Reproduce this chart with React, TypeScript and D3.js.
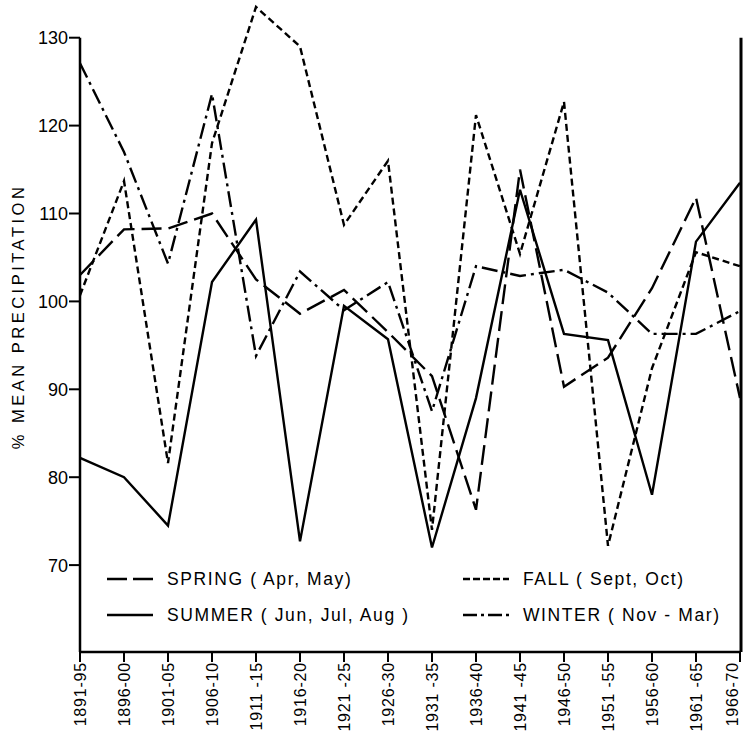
import React from 'react';
import * as d3 from 'd3';

const periods = ['1891-95', '1896-00', '1901-05', '1906-10', '1911 -15', '1916-20', '1921 -25', '1926-30',
  '1931 -35', '1936-40', '1941 -45', '1946-50', '1951 -55', '1956-60', '1961 -65', '1966-70'];

const spring = [103, 108.2, 108.3, 110, 102.5, 98.6, 101.3, 96.5, 91.5, 76.3, 115, 90.3, 93.6, 101.5, 111.8, 89];
const summer = [82.2, 80, 74.5, 102.2, 109.3, 72.7, 99.5, 95.7, 72, 89, 112.7, 96.3, 95.6, 78, 106.8, 113.5];
const fall = [100.7, 113.7, 81.6, 118, 133.5, 129, 108.7, 116, 74, 121.2, 105.4, 122.7, 72.2, 92.4, 105.6, 104];
const winter = [127.1, 117, 104.3, 123.6, 93.8, 103.4, 99, 102.2, 87.5, 104, 102.9, 103.6, 101, 96.3, 96.3, 98.9];

const yTicks = [70, 80, 90, 100, 110, 120, 130];

const series = [
  { name: 'SPRING ( Apr, May)', values: spring, dash: '20,7', legendDash: '20,6' },
  { name: 'SUMMER ( Jun, Jul, Aug )', values: summer, dash: null, legendDash: null },
  { name: 'FALL ( Sept, Oct)', values: fall, dash: '7,4', legendDash: '7,3' },
  { name: 'WINTER ( Nov - Mar)', values: winter, dash: '16,5,3,5', legendDash: '14,4,3,4' },
];

const App = () => {
  const width = 743;
  const height = 744;
  const left = 80;
  const right = 741;
  const top = 37.7;
  const bottom = 652;

  const x = d3.scalePoint<string>().domain(periods).range([left, 740]);
  const y = d3.scaleLinear().domain([60, 130]).range([653, top]);

  const line = d3.line<number>()
    .x((d, i) => x(periods[i]) as number)
    .y(d => y(d));

  const font = '"Liberation Sans", Arial, sans-serif';

  // legend layout: [spring, summer, fall, winter]
  const legendPos = [
    { lx: 107, ty: 579 },
    { lx: 107, ty: 615 },
    { lx: 463, ty: 579 },
    { lx: 463, ty: 615 },
  ];

  return (
    <svg width={width} height={height} style={{ position: 'absolute', left: 0, top: 0, background: '#fff' }}>
      <rect x={0} y={0} width={width} height={height} fill="#fff" />

      {/* axes */}
      <line x1={left} y1={top} x2={left} y2={bottom} stroke="#000" strokeWidth={2.5} />
      <line x1={left} y1={bottom} x2={right} y2={bottom} stroke="#000" strokeWidth={2.5} />
      <line x1={right} y1={top} x2={right} y2={bottom} stroke="#000" strokeWidth={3} />

      {yTicks.map(t => (
        <g key={t}>
          <line x1={left - 11} x2={left} y1={y(t)} y2={y(t)} stroke="#000" strokeWidth={2} />
          <text x={left - 12} y={y(t)} dy="0.36em" textAnchor="end" fontFamily={font} fontSize={18} fill="#000">{t}</text>
        </g>
      ))}

      {periods.map((p, i) => {
        const px = x(p) as number;
        const bx = i === periods.length - 1 ? 738 : px + 6;
        return (
          <g key={p}>
            <line x1={px} x2={px} y1={bottom} y2={bottom + 10} stroke="#000" strokeWidth={2} />
            <text transform={`translate(${bx},${bottom + 10}) rotate(-90)`} textAnchor="end"
              fontFamily={font} fontSize={16} fill="#000" letterSpacing={0.8}>{p}</text>
          </g>
        );
      })}

      <text transform={`translate(24,${(178 + 455) / 2}) rotate(-90)`} textAnchor="middle" fontFamily={font}
        fontSize={16.5} letterSpacing={3.5} fill="#000">% MEAN PRECIPITATION</text>

      {/* lines */}
      {series.map(s => (
        <path key={s.name} d={line(s.values) || ''} fill="none" stroke="#000" strokeWidth={2.4}
          strokeDasharray={s.dash || undefined} strokeLinejoin="miter" />
      ))}

      {/* legend */}
      {series.map((s, i) => (
        <g key={'lg' + s.name}>
          <line x1={legendPos[i].lx} x2={legendPos[i].lx + 46} y1={legendPos[i].ty} y2={legendPos[i].ty}
            stroke="#000" strokeWidth={2.4} strokeDasharray={s.legendDash || undefined} />
          <text x={legendPos[i].lx + 60} y={legendPos[i].ty} dy="0.36em" fontFamily={font} fontSize={17.5}
            letterSpacing={1.6} fill="#000">{s.name}</text>
        </g>
      ))}
    </svg>
  );
};

export default App;
